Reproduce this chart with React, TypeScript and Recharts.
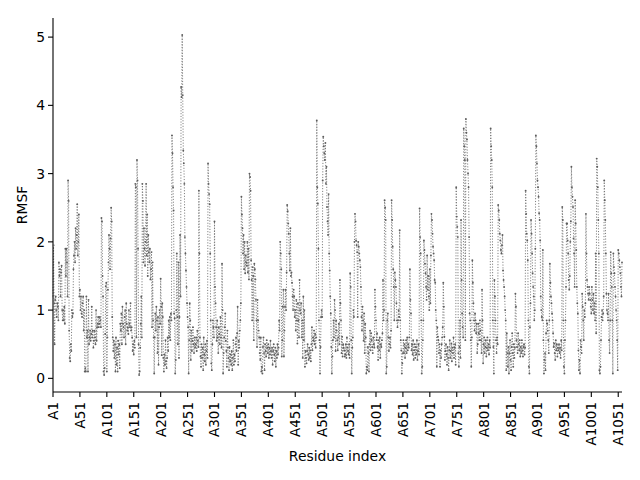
import { LineChart, Line, XAxis, YAxis } from "recharts";

// RMSF per residue (index 0 = A1)
const rmsf: number[] = [
  // 0-49
  1.2, 1.95, 1.1, 0.5, 1.15, 1.2, 1.0, 0.9, 1.1, 1.05,
  0.85, 1.7, 1.5, 1.6, 1.2, 1.55, 1.65, 1.0, 0.85, 1.0,
  0.85, 1.05, 0.8, 1.9, 1.5, 1.9, 1.7, 1.2, 2.9, 2.6,
  0.7, 0.3, 0.25, 0.5, 0.4, 1.0, 0.9, 0.95, 1.6, 1.8,
  2.0, 1.7, 2.2, 1.9, 2.1, 2.55, 1.8, 2.0, 2.4, 1.2,
  // 50-99
  1.3, 1.0, 1.2, 0.95, 0.9, 1.1, 1.2, 0.7, 1.0, 0.1,
  0.15, 0.1, 1.2, 0.6, 0.7, 0.1, 1.15, 0.5, 0.6, 0.7,
  0.55, 0.65, 1.05, 0.6, 0.7, 0.45, 0.55, 0.7, 0.6, 0.5,
  1.0, 0.55, 0.75, 0.8, 0.9, 0.75, 0.8, 0.9, 0.85, 0.75,
  2.35, 2.3, 1.5, 1.2, 0.1, 0.05, 0.15, 0.65, 1.35, 1.4,
  // 100-149
  0.1, 0.6, 1.3, 1.7, 2.1, 1.9, 1.6, 2.05, 2.5, 2.3,
  0.9, 0.6, 0.4, 0.55, 0.3, 0.5, 0.1, 0.6, 0.2, 0.45,
  0.1, 0.55, 0.35, 0.5, 0.15, 0.8, 0.7, 0.95, 0.5, 1.05,
  0.8, 0.75, 0.6, 0.9, 1.0, 0.5, 1.1, 0.8, 0.7, 0.75,
  0.65, 1.0, 0.8, 0.75, 1.1, 0.7, 0.75, 0.6, 0.4, 0.5,
  // 150-199
  0.35, 0.55, 0.45, 2.85, 2.8, 0.6, 3.2, 2.9, 1.9, 0.5,
  0.05, 0.1, 0.45, 0.8, 1.2, 0.6, 2.85, 2.6, 1.7, 2.2,
  1.9, 1.65, 2.0, 2.85, 1.8, 2.4, 1.5, 2.1, 1.85, 1.7,
  1.9, 1.45, 1.6, 1.85, 0.75, 1.7, 0.85, 0.6, 0.07, 0.6,
  0.95, 0.7, 1.05, 0.85, 0.37, 0.9, 0.2, 0.75, 1.0, 0.8,
  // 200-249
  1.46, 1.05, 0.34, 1.1, 0.9, 0.3, 0.1, 0.35, 0.2, 0.56,
  0.25, 0.15, 0.3, 0.6, 0.4, 0.85, 0.6, 0.9, 0.56, 0.95,
  0.85, 3.56, 3.3, 2.8, 2.46, 0.95, 0.88, 0.07, 0.27, 1.0,
  1.83, 0.9, 0.5, 1.7, 0.3, 0.9, 2.1, 1.2, 4.27, 4.12,
  5.03, 4.15, 3.34, 3.15, 2.85, 2.07, 1.83, 1.58, 1.34, 1.1,
  // 250-299
  0.9, 0.75, 0.07, 0.56, 1.1, 0.85, 0.27, 0.7, 0.4, 0.55,
  0.75, 0.5, 0.37, 0.6, 0.45, 0.5, 0.6, 0.4, 0.7, 0.55,
  0.46, 2.75, 1.83, 0.6, 0.32, 0.17, 0.5, 0.3, 0.45, 0.12,
  0.6, 0.35, 0.25, 0.5, 0.2, 0.4, 0.55, 0.3, 3.15, 2.85,
  2.7, 2.55, 1.83, 0.85, 0.22, 0.12, 0.5, 0.85, 0.75, 0.6,
  // 300-349
  2.3, 1.34, 1.1, 0.75, 0.55, 0.85, 0.6, 0.37, 0.75, 0.65,
  0.5, 0.9, 0.6, 0.45, 1.68, 1.0, 0.07, 0.37, 0.6, 0.75,
  0.95, 0.55, 0.4, 0.17, 0.7, 0.45, 0.3, 0.12, 0.46, 0.25,
  0.35, 0.2, 0.4, 0.12, 0.3, 0.56, 0.2, 0.35, 0.25, 0.5,
  0.6, 0.4, 0.66, 1.05, 0.2, 0.55, 0.45, 0.7, 0.85, 1.1,
  // 350-399
  2.66, 2.4, 2.2, 1.83, 2.1, 1.6, 2.0, 1.54, 1.8, 1.7,
  1.65, 2.0, 1.55, 1.9, 1.45, 3.0, 2.95, 2.75, 1.73, 1.44,
  0.85, 1.63, 1.5, 0.56, 1.68, 1.6, 1.45, 1.15, 0.85, 0.46,
  1.15, 0.85, 0.7, 0.6, 0.37, 0.27, 0.6, 0.1, 0.17, 0.07,
  0.46, 0.6, 0.37, 0.12, 0.5, 0.4, 0.32, 0.56, 0.45, 0.37,
  // 400-449
  0.5, 0.3, 0.45, 0.35, 0.55, 0.4, 0.3, 0.45, 0.2, 0.4,
  0.5, 0.35, 0.25, 0.45, 0.17, 0.4, 0.3, 0.5, 0.35, 0.45,
  0.85, 0.7, 2.0, 1.83, 1.6, 0.32, 0.56, 1.05, 1.3, 0.32,
  0.7, 1.05, 1.3, 1.0, 1.55, 2.54, 2.45, 2.27, 2.12, 1.83,
  1.58, 2.2, 1.5, 1.55, 1.4, 1.2, 1.0, 1.3, 1.2, 0.9,
  // 450-499
  1.0, 0.7, 1.15, 0.85, 0.51, 1.1, 0.85, 0.6, 1.44, 1.0,
  0.95, 1.1, 0.6, 0.85, 0.3, 1.2, 0.56, 1.0, 0.17, 0.4,
  0.3, 0.22, 0.4, 0.5, 0.35, 0.27, 0.45, 0.3, 0.41, 0.25,
  0.5, 0.75, 0.41, 0.6, 0.55, 0.7, 0.5, 0.65, 0.45, 0.6,
  3.78, 2.8, 2.56, 1.9, 0.85, 0.56, 0.07, 0.46, 0.9, 1.0,
  // 500-549
  0.9, 2.9, 3.54, 3.4, 3.3, 3.2, 3.45, 2.85, 3.1, 2.51,
  2.3, 2.1, 2.7, 1.83, 1.58, 1.2, 0.95, 0.46, 0.07, 0.32,
  0.56, 0.85, 0.6, 1.15, 1.0, 0.4, 0.85, 0.7, 0.56, 0.41,
  0.6, 0.8, 0.5, 1.44, 1.1, 0.85, 0.37, 0.61, 0.32, 0.5,
  0.45, 0.41, 0.32, 0.35, 0.5, 0.3, 0.6, 0.45, 0.4, 0.35,
  // 550-599
  0.5, 0.3, 1.54, 1.34, 0.56, 0.07, 0.45, 0.6, 1.0, 0.9,
  2.0, 2.41, 2.3, 2.02, 1.95, 1.85, 0.9, 2.0, 1.93, 1.83,
  1.73, 1.63, 1.34, 0.9, 0.7, 1.05, 0.85, 0.55, 0.95, 0.37,
  0.8, 0.6, 0.07, 0.17, 0.12, 0.46, 0.37, 0.1, 0.5, 0.7,
  0.41, 0.66, 0.56, 0.46, 0.37, 0.6, 0.5, 0.45, 1.3, 1.05,
  // 600-649
  0.85, 0.56, 0.66, 0.46, 0.27, 0.56, 0.41, 0.6, 0.3, 0.5,
  0.46, 0.56, 0.66, 1.44, 0.85, 1.0, 2.61, 2.5, 2.32, 0.07,
  0.17, 0.85, 0.95, 0.6, 0.4, 0.5, 0.6, 0.45, 0.7, 2.61,
  2.32, 1.93, 1.6, 1.34, 0.85, 1.55, 1.44, 1.34, 1.1, 0.85,
  0.75, 0.85, 1.0, 0.9, 2.17, 0.85, 0.56, 0.41, 0.07, 0.22,
  // 650-699
  0.37, 0.56, 0.37, 0.5, 0.3, 0.45, 0.56, 0.37, 0.6, 0.41,
  0.5, 0.45, 0.6, 1.6, 1.15, 0.95, 0.41, 0.5, 0.35, 0.56,
  0.27, 0.41, 0.5, 0.3, 0.46, 0.35, 0.56, 0.27, 0.4, 0.5,
  0.35, 2.49, 2.07, 1.83, 0.85, 0.07, 0.17, 0.56, 0.85, 2.02,
  1.88, 1.68, 1.54, 1.34, 1.15, 1.8, 1.3, 1.5, 1.2, 1.0,
  // 700-749
  1.6, 1.1, 1.8, 2.41, 2.32, 2.12, 1.93, 1.83, 1.73, 1.44,
  1.4, 1.0, 0.85, 0.17, 0.75, 0.61, 0.56, 0.37, 0.5, 0.17,
  0.41, 0.3, 0.5, 0.6, 0.75, 1.4, 1.05, 0.61, 0.27, 0.4,
  0.5, 0.35, 0.2, 0.46, 0.3, 0.12, 0.41, 0.56, 0.3, 0.4,
  0.51, 0.25, 0.45, 0.37, 0.6, 0.3, 0.45, 0.5, 0.2, 2.8,
  // 750-799
  2.37, 2.22, 2.07, 0.37, 0.17, 0.46, 0.85, 0.3, 2.32, 1.44,
  0.95, 0.75, 0.6, 3.66, 3.4, 3.2, 0.56, 3.8, 3.6, 3.5,
  3.2, 3.0, 2.8, 2.07, 0.95, 0.85, 0.56, 0.17, 0.6, 1.73,
  1.4, 1.1, 0.85, 0.7, 0.95, 0.85, 0.66, 0.8, 0.37, 0.5,
  0.8, 0.66, 0.56, 0.85, 0.7, 0.56, 0.37, 1.3, 0.85, 0.22,
  // 800-849
  0.5, 0.6, 0.37, 0.46, 0.56, 0.32, 0.45, 0.6, 0.41, 0.5,
  0.35, 0.56, 0.45, 3.66, 3.4, 3.2, 2.8, 0.85, 0.46, 0.07,
  1.44, 1.2, 0.85, 0.56, 0.37, 0.6, 0.5, 2.54, 2.46, 2.32,
  2.12, 2.02, 1.88, 1.83, 1.95, 2.1, 1.58, 1.44, 1.34, 1.2,
  1.0, 0.85, 0.12, 0.66, 0.37, 0.17, 0.46, 0.07, 0.37, 0.56,
  // 850-899
  0.27, 0.12, 0.46, 0.66, 0.37, 0.17, 0.5, 0.3, 0.45, 1.24,
  1.05, 0.56, 0.46, 0.37, 0.66, 0.5, 0.41, 0.56, 0.32, 0.46,
  0.37, 0.56, 0.41, 0.32, 0.46, 0.5, 0.35, 0.45, 2.75, 2.41,
  2.12, 2.02, 1.73, 0.85, 0.17, 0.07, 0.75, 1.1, 2.32, 2.12,
  1.83, 1.54, 1.34, 1.2, 0.85, 1.0, 1.9, 3.56, 3.4, 3.15,
  // 900-949
  2.9, 2.8, 2.66, 2.42, 2.32, 2.02, 1.2, 1.0, 0.9, 0.85,
  1.88, 0.56, 0.07, 0.27, 0.37, 0.12, 0.66, 0.85, 0.8, 0.7,
  0.56, 0.37, 0.85, 1.68, 1.4, 1.2, 1.1, 0.95, 0.85, 0.66,
  0.46, 0.51, 0.37, 0.27, 0.56, 0.41, 0.5, 0.32, 0.45, 0.41,
  0.5, 0.37, 0.45, 0.3, 0.56, 0.41, 2.51, 2.32, 0.85, 0.17,
  // 950-999
  0.07, 0.56, 0.85, 1.34, 2.27, 2.27, 2.02, 1.83, 1.44, 1.3,
  1.5, 2.0, 2.3, 3.1, 2.8, 2.66, 2.51, 2.05, 1.83, 1.34,
  2.61, 2.27, 1.88, 1.34, 1.1, 0.95, 0.41, 0.12, 0.27, 0.07,
  0.56, 0.46, 0.37, 1.24, 1.05, 0.85, 0.56, 1.0, 0.9, 1.1,
  2.41, 1.83, 1.44, 1.34, 1.24, 1.15, 1.34, 1.24, 1.15, 1.05,
  // 1000-1049
  0.95, 1.34, 1.15, 1.0, 1.24, 0.95, 1.1, 0.85, 1.83, 0.66,
  3.22, 3.1, 2.8, 2.32, 1.83, 0.12, 0.07, 0.17, 0.56, 0.9,
  1.0, 0.85, 0.95, 1.2, 2.9, 2.61, 2.32, 1.83, 1.24, 1.0,
  0.95, 0.85, 1.24, 0.56, 0.37, 0.85, 1.85, 1.54, 1.34, 0.85,
  0.07, 1.83, 1.63, 1.54, 1.34, 1.2, 1.0, 0.85, 0.56, 0.12,
  // 1050-1057
  1.88, 1.83, 1.73, 1.63, 1.54, 1.34, 1.2, 1.7,
];

// x ticks every 50 residues: A1, A51, ... A1051
const tickResidues = [
  1, 51, 101, 151, 201, 251, 301, 351, 401, 451, 501,
  551, 601, 651, 701, 751, 801, 851, 901, 951, 1001, 1051,
];
const yTicks = [0, 1, 2, 3, 4, 5];

const data = rmsf.map((v, i) => ({ idx: i, rmsf: v }));
const FONT = "'DejaVu Sans', sans-serif";
const LINE_COLOR = "#6e6e6e";
const DOT_COLOR = "#5c5c5c";

function ResidueTick({ x, y, payload }: any) {
  return (
    <text
      x={x}
      y={y}
      transform={`rotate(-90 ${x} ${y})`}
      textAnchor="end"
      dominantBaseline="central"
      fontSize={13.5}
      fontFamily={FONT}
      fill="#000"
    >
      {`A${payload.value + 1}`}
    </text>
  );
}

export default function App() {
  return (
    <div style={{ width: 640, height: 480 }}>
      <style>{`body { margin: 0; }`}</style>
      <LineChart
        width={640}
        height={480}
        data={data}
        margin={{ top: 18, right: 18, bottom: 0, left: 0 }}
        style={{ fontFamily: FONT, background: "#fff" }}
      >
        <XAxis
          dataKey="idx"
          type="number"
          domain={[0, rmsf.length - 1]}
          ticks={tickResidues.map((r) => r - 1)}
          tick={<ResidueTick />}
          tickSize={5}
          tickMargin={5}
          interval={0}
          height={88}
          axisLine={{ stroke: "#000", strokeWidth: 1.1 }}
          tickLine={{ stroke: "#000", strokeWidth: 1.1 }}
          label={{ value: "Residue index", position: "insideBottom", offset: 19, fill: "#000", fontSize: 13.9 }}
        />
        <XAxis
          xAxisId="top"
          orientation="top"
          dataKey="idx"
          type="number"
          domain={[0, rmsf.length - 1]}
          height={0}
          tick={false}
          tickLine={false}
          axisLine={{ stroke: "#000", strokeWidth: 1.1 }}
        />
        <YAxis
          type="number"
          domain={[-0.2, 5.28]}
          ticks={yTicks}
          width={53}
          tickSize={5}
          tickMargin={3}
          tick={{ fill: "#000", fontSize: 13.9, fontFamily: FONT }}
          axisLine={{ stroke: "#000", strokeWidth: 1.1 }}
          tickLine={{ stroke: "#000", strokeWidth: 1.1 }}
          label={{
            value: "RMSF",
            angle: -90,
            position: "insideLeft",
            offset: 22,
            fill: "#000",
            fontSize: 13.9,
            style: { textAnchor: "middle" },
          }}
        />
        <YAxis
          yAxisId="right"
          orientation="right"
          domain={[-0.2, 5.28]}
          width={0}
          tick={false}
          tickLine={false}
          axisLine={{ stroke: "#000", strokeWidth: 1.1 }}
        />
        <Line
          type="linear"
          dataKey="rmsf"
          stroke={LINE_COLOR}
          strokeWidth={0.9}
          strokeDasharray="1.1 1.7"
          dot={{ r: 0.95, fill: DOT_COLOR, stroke: "none" }}
          activeDot={false}
          isAnimationActive={false}
        />
      </LineChart>
    </div>
  );
}
